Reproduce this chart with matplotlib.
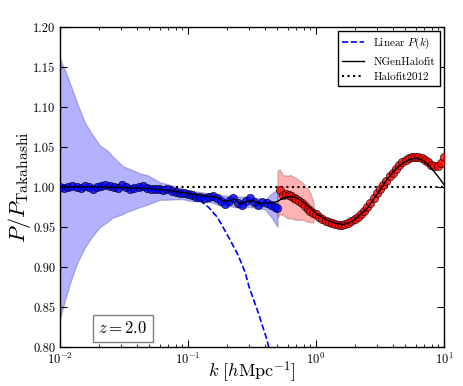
import numpy as np
import matplotlib
matplotlib.use("Agg")
import matplotlib.pyplot as plt

plt.rcParams["font.family"] = "cmr10"
plt.rcParams["mathtext.fontset"] = "cm"
plt.rcParams["axes.formatter.use_mathtext"] = True
plt.rcParams["axes.unicode_minus"] = False

# simulation points, large scales (blue)
k_lo = [0.0100, 0.0108, 0.0116, 0.0125, 0.0135, 0.0145, 0.0156, 0.0168, 0.0181, 0.0195,
        0.0210, 0.0226, 0.0244, 0.0263, 0.0283, 0.0305, 0.0328, 0.0354, 0.0381, 0.0411,
        0.0442, 0.0476, 0.0513, 0.0553, 0.0596, 0.0642, 0.0691, 0.0745, 0.0802, 0.0864,
        0.0931, 0.100, 0.108, 0.116, 0.125, 0.135, 0.145, 0.156, 0.168, 0.181,
        0.195, 0.210, 0.226, 0.244, 0.263, 0.283, 0.305, 0.328, 0.354, 0.381,
        0.411, 0.443, 0.477, 0.500]
r_lo = [1.000, 0.999, 1.000, 1.001, 1.000, 0.999, 1.001, 1.000, 0.998, 1.000,
        1.001, 1.003, 1.001, 1.000, 0.999, 1.002, 1.000, 0.998, 0.999, 1.000,
        1.001, 0.999, 0.998, 0.997, 0.998, 0.996, 0.997, 0.995, 0.994, 0.993,
        0.992, 0.991, 0.990, 0.988, 0.987, 0.986, 0.987, 0.989, 0.986, 0.982,
        0.979, 0.983, 0.986, 0.980, 0.977, 0.982, 0.986, 0.981, 0.978, 0.981,
        0.980, 0.977, 0.975, 0.974]

# simulation points, small scales (red)
k_hi = [0.52, 0.55, 0.58, 0.61, 0.64, 0.67, 0.70, 0.74, 0.78, 0.82,
        0.86, 0.90, 0.95, 1.00, 1.06, 1.12, 1.19, 1.26, 1.33, 1.41,
        1.50, 1.59, 1.68, 1.78, 1.89, 2.00, 2.12, 2.24, 2.37, 2.51,
        2.66, 2.82, 2.99, 3.16, 3.35, 3.55, 3.76, 3.98, 4.22, 4.47,
        4.73, 5.01, 5.31, 5.62, 5.96, 6.31, 6.68, 7.08, 7.50, 7.94,
        8.41, 8.91, 9.44, 10.0]
r_hi = [0.996, 0.990, 0.991, 0.990, 0.989, 0.986, 0.985, 0.982, 0.980, 0.976,
        0.973, 0.970, 0.968, 0.966, 0.962, 0.960, 0.958, 0.956, 0.955, 0.954,
        0.953, 0.953, 0.954, 0.955, 0.957, 0.960, 0.963, 0.966, 0.970, 0.975,
        0.980, 0.986, 0.992, 0.997, 1.003, 1.008, 1.014, 1.018, 1.023, 1.028,
        1.031, 1.034, 1.036, 1.037, 1.037, 1.037, 1.036, 1.034, 1.031, 1.028,
        1.026, 1.026, 1.030, 1.038]

# error bands
kb_lo = [0.0100, 0.0110, 0.0120, 0.0136, 0.0157, 0.0178, 0.0205, 0.0233, 0.0259, 0.0310,
         0.0322, 0.0422, 0.0480, 0.0604, 0.0640, 0.0912, 0.10, 0.12, 0.15, 0.18,
         0.21, 0.25, 0.30, 0.35, 0.40, 0.45, 0.50]
lo_lo = [0.835, 0.860, 0.880, 0.905, 0.925, 0.938, 0.950, 0.956, 0.962, 0.966,
         0.968, 0.975, 0.978, 0.984, 0.984, 0.985, 0.983, 0.982, 0.981, 0.977,
         0.976, 0.974, 0.975, 0.974, 0.972, 0.962, 0.950]
up_lo = [1.160, 1.145, 1.129, 1.105, 1.080, 1.066, 1.052, 1.046, 1.038, 1.026,
         1.025, 1.017, 1.015, 1.006, 1.005, 0.998, 0.996, 0.994, 0.992, 0.990,
         0.989, 0.988, 0.988, 0.986, 0.984, 0.992, 0.997]

kb_hi = [0.50, 0.52, 0.55, 0.60, 0.63, 0.70, 0.79, 0.85, 0.90, 0.95, 0.98]
lo_hi = [0.962, 0.966, 0.965, 0.961, 0.961, 0.959, 0.959, 0.957, 0.956, 0.956, 0.962]
up_hi = [1.020, 1.022, 1.015, 1.014, 1.015, 1.011, 1.005, 0.999, 0.993, 0.982, 0.968]

# NGenHalofit
k_ngen = [0.01, 0.02, 0.03, 0.05, 0.07, 0.10, 0.13, 0.15, 0.17, 0.19,
          0.21, 0.23, 0.26, 0.29, 0.32, 0.36, 0.40, 0.45, 0.50, 0.55,
          0.60, 0.65, 0.70, 0.80, 0.90, 1.0, 1.2, 1.4, 1.6, 1.8,
          2.0, 2.5, 3.0, 3.5, 4.0, 4.5, 5.0, 5.5, 6.0, 6.5,
          7.0, 7.5, 8.0, 9.0, 10.0]
r_ngen = [1.000, 1.000, 0.9995, 0.998, 0.996, 0.992, 0.989, 0.988, 0.987, 0.982,
          0.983, 0.985, 0.979, 0.982, 0.983, 0.979, 0.980, 0.980, 0.982, 0.986,
          0.988, 0.988, 0.987, 0.981, 0.974, 0.967, 0.959, 0.955, 0.953, 0.955,
          0.959, 0.973, 0.991, 1.007, 1.019, 1.027, 1.032, 1.035, 1.036, 1.035,
          1.032, 1.028, 1.023, 1.013, 1.003]

# linear P(k)
k_lin = [0.01, 0.03, 0.05, 0.08, 0.10, 0.12, 0.144, 0.17, 0.213, 0.246, 0.28, 0.30, 0.35, 0.414, 0.44]
r_lin = [1.000, 0.999, 0.997, 0.993, 0.990, 0.985, 0.975, 0.962, 0.934, 0.915, 0.893, 0.875, 0.845, 0.809, 0.790]

fig = plt.figure(figsize=(4.63, 3.86), dpi=100)
ax = fig.add_axes([0.1296, 0.101, 0.8294, 0.829])

ax.fill_between(kb_lo, lo_lo, up_lo, facecolor="b", edgecolor="#3a3a8a", alpha=0.3, lw=1, zorder=1)
ax.fill_between(kb_hi, lo_hi, up_hi, facecolor="r", edgecolor="#8a3a3a", alpha=0.3, lw=1, zorder=1)

ax.plot(k_lin, r_lin, "b--", lw=1.2, label=r"Linear $P(k)$", zorder=2)
ax.plot(k_lo, r_lo, "o", color="b", mec="k", mew=0.5, ms=6, alpha=0.8, zorder=3)
ax.plot(k_hi, r_hi, "o", color="r", mec="k", mew=0.5, ms=6, alpha=0.8, zorder=3)
ax.plot(k_ngen, r_ngen, "k-", lw=1.0, label="NGenHalofit", zorder=4)
ax.plot([0.01, 10], [1.0, 1.0], "k:", lw=1.5, label="Halofit2012", zorder=2)

ax.set_xscale("log")
ax.set_xlim(1e-2, 1e1)
ax.set_ylim(0.80, 1.20)
ax.set_yticks([0.80, 0.85, 0.90, 0.95, 1.00, 1.05, 1.10, 1.15, 1.20])
ax.set_yticklabels(["%.2f" % v for v in [0.80, 0.85, 0.90, 0.95, 1.00, 1.05, 1.10, 1.15, 1.20]])
ax.tick_params(which="both", direction="in", top=True, right=True, labelsize=9)
ax.tick_params(which="major", length=5, width=0.8)
ax.tick_params(which="minor", length=2.5, width=0.6)
for s in ax.spines.values():
    s.set_linewidth(1.0)

ax.set_xlabel(r"$k\ [h{\rm Mpc}^{-1}]$", fontsize=13, labelpad=-5)
ax.set_ylabel(r"$P/P_{\rm Takahashi}$", fontsize=16, labelpad=0)

ax.text(0.164, 0.058, r"$z = 2.0$", transform=ax.transAxes, fontsize=12,
        ha="center", va="center",
        bbox=dict(boxstyle="square,pad=0.35", facecolor="white", edgecolor="gray", lw=1))

leg = ax.legend(loc="upper right", fontsize=8, fancybox=False, framealpha=1,
                borderaxespad=0.4, handlelength=2.0)
leg.get_frame().set_edgecolor("k")

plt.savefig("out.png", dpi=100)
